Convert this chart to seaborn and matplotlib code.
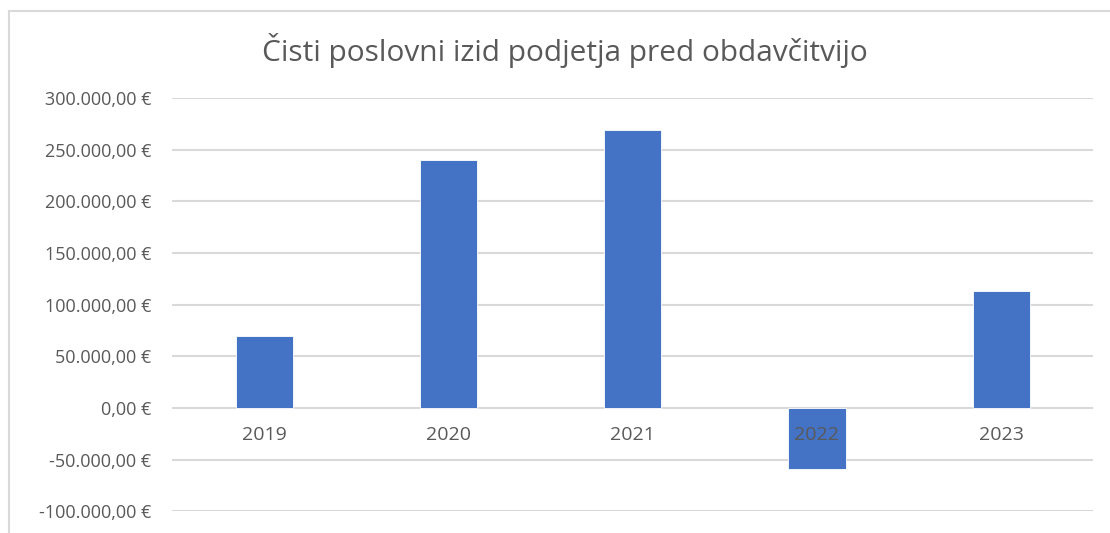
import seaborn as sns
import pandas as pd
from matplotlib import pyplot as plt
from matplotlib.patches import Rectangle
from matplotlib.ticker import FuncFormatter

# data
years = ['2019', '2020', '2021', '2022', '2023']
profit = [69500, 240500, 269500, -59000, 113000]

sns.set_theme(style='white')
plt.rcParams['font.family'] = ['Open Sans', 'DejaVu Sans']

df = pd.DataFrame({'leto': years, 'izid': profit})

fig = plt.figure(figsize=(11.1, 5.33), dpi=100)
ax = fig.add_axes([0.155, 0.041, 0.830, 0.775])

sns.barplot(data=df, x='leto', y='izid', color='#4472C4', width=0.31,
            saturation=1, edgecolor='white', linewidth=0.6, ax=ax, zorder=3)

ax.set_ylim(-100000, 300000)
ax.set_yticks(range(-100000, 300001, 50000))


def eur(v, pos):
    s = f'{abs(v):,.2f}'.replace(',', 'X').replace('.', ',').replace('X', '.')
    return ('-' if v < 0 else '') + s + ' €'


ax.yaxis.set_major_formatter(FuncFormatter(eur))
ax.tick_params(axis='y', labelsize=13, labelcolor='#595959', length=0, pad=15)
ax.grid(axis='y', color='#D9D9D9', linewidth=1.5, zorder=0)
ax.set_xticks([])
ax.set_xlabel('')
ax.set_ylabel('')
for s in ax.spines.values():
    s.set_visible(False)

# category labels sit just under the zero line, like Excel
for i, y in enumerate(years):
    ax.annotate(y, xy=(i, 0), xytext=(0, -13), textcoords='offset points',
                ha='center', va='top', fontsize=14, color='#595959', zorder=4)

fig.text(0.509, 0.905, 'Čisti poslovni izid podjetja pred obdavčitvijo',
         ha='center', va='center', fontsize=21.5, color='#595959')

# chart border
fig.patches.append(Rectangle((9 / 1110, -0.1), 1.1, 1.1 - 11 / 533,
                             transform=fig.transFigure, fill=False,
                             edgecolor='#D9D9D9', linewidth=1.5))

plt.savefig('out.png', dpi=100)
